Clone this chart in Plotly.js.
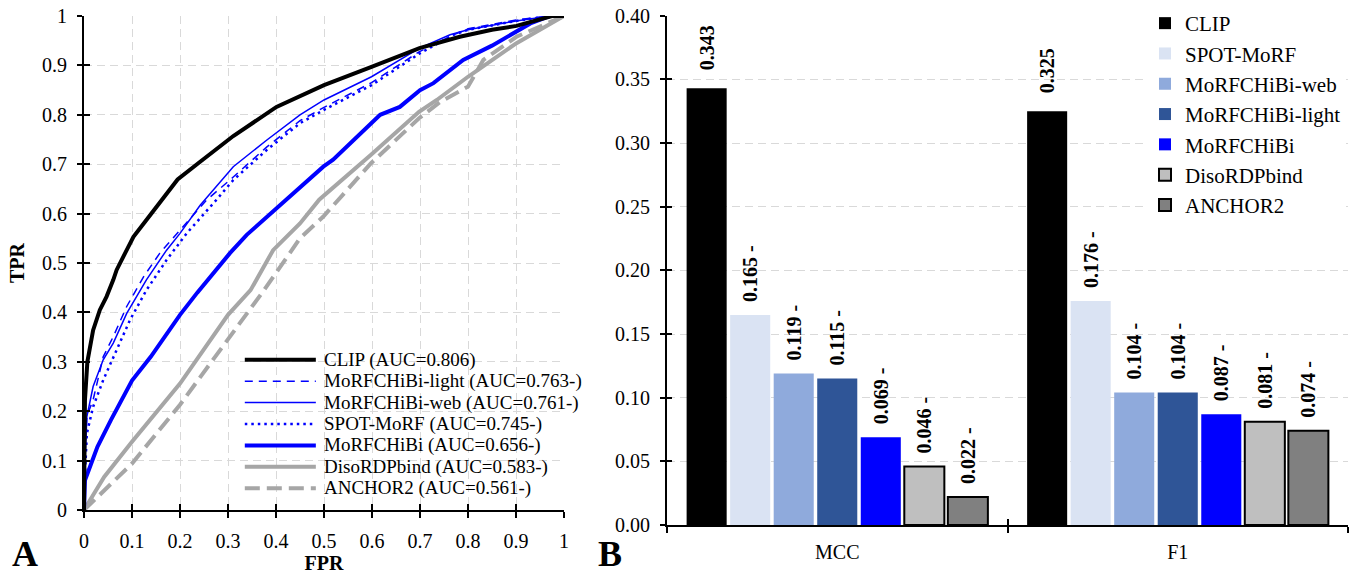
<!DOCTYPE html>
<html><head><meta charset="utf-8">
<script src="https://cdn.plot.ly/plotly-3.0.1.min.js"></script>
<style>html,body{margin:0;padding:0;background:#fff}</style>
</head><body><div id="chart" style="width:1355px;height:574px"></div>
<script>
// ---------- Panel A: ROC curves ----------
const rocNames = ['CLIP','MoRFCHiBi-light','MoRFCHiBi-web','SPOT-MoRF','MoRFCHiBi','DisoRDPbind','ANCHOR2'];
const rocLegend = ['CLIP (AUC=0.806)','MoRFCHiBi-light (AUC=0.763-)','MoRFCHiBi-web (AUC=0.761-)','SPOT-MoRF (AUC=0.745-)','MoRFCHiBi (AUC=0.656-)','DisoRDPbind (AUC=0.583-)','ANCHOR2 (AUC=0.561-)'];

const clipFPR = [0,0.001,0.002,0.007,0.019,0.033,0.047,0.061,0.068,0.082,0.103,0.13,0.162,0.195,0.242,0.311,0.401,0.5,0.599,0.699,0.783,0.85,0.901,0.943,0.975,1];
const clipTPR = [0,0.12,0.223,0.30,0.364,0.405,0.432,0.466,0.486,0.513,0.553,0.587,0.628,0.669,0.705,0.757,0.816,0.860,0.897,0.935,0.958,0.972,0.980,0.991,1.0,1];

const lightFPR = [0,0.002,0.006,0.019,0.04,0.061,0.089,0.124,0.158,0.2,0.256,0.311,0.381,0.45,0.5,0.599,0.699,0.77,0.8,0.9,0.95,1];
const lightTPR = [0,0.12,0.19,0.223,0.31,0.351,0.412,0.472,0.52,0.567,0.628,0.674,0.735,0.788,0.815,0.865,0.928,0.962,0.974,0.992,0.998,1];

const webFPR = [0,0.002,0.006,0.019,0.04,0.061,0.089,0.13,0.172,0.2,0.242,0.311,0.381,0.45,0.5,0.599,0.699,0.7625,0.8,0.9,0.95,1];
const webTPR = [0,0.10,0.189,0.25,0.304,0.338,0.398,0.466,0.526,0.56,0.617,0.695,0.749,0.80,0.83,0.877,0.935,0.962,0.972,0.99,0.997,1];

const spotFPR = [0,0.002,0.006,0.019,0.04,0.061,0.096,0.13,0.172,0.214,0.242,0.276,0.311,0.381,0.45,0.5,0.599,0.699,0.77,0.8,0.9,0.95,1];
const spotTPR = [0,0.07,0.155,0.209,0.263,0.31,0.385,0.445,0.506,0.56,0.59,0.628,0.668,0.729,0.783,0.81,0.86,0.924,0.962,0.972,0.99,0.997,1];

const morfFPR = [0,0.002,0.01,0.028,0.056,0.1,0.139,0.2,0.236,0.269,0.304,0.339,0.381,0.422,0.45,0.4986,0.519,0.582,0.617,0.658,0.7,0.728,0.79,0.85,0.901,0.93,0.971,1];
const morfTPR = [0,0.06,0.081,0.128,0.182,0.262,0.31,0.395,0.44,0.48,0.52,0.557,0.594,0.628,0.654,0.695,0.709,0.766,0.80,0.816,0.85,0.864,0.911,0.94,0.968,0.985,1.0,1];

const disoFPR = [0,0.042,0.1,0.2,0.3,0.347,0.394,0.45,0.49,0.598,0.698,0.735,0.8,0.901,1];
const disoTPR = [0,0.067,0.138,0.256,0.395,0.445,0.526,0.58,0.628,0.719,0.806,0.83,0.877,0.945,1];

const anchorFPR = [0,0.042,0.1,0.2,0.3,0.375,0.45,0.4986,0.598,0.698,0.742,0.8,0.832,0.901,1];
const anchorTPR = [0,0.04,0.094,0.213,0.344,0.445,0.55,0.594,0.702,0.793,0.826,0.857,0.911,0.958,1];

// ---------- Panel B: bar chart ----------
const metrics = ['MCC','F1'];
const barNames = ['CLIP','SPOT-MoRF','MoRFCHiBi-web','MoRFCHiBi-light','MoRFCHiBi','DisoRDPbind','ANCHOR2'];
const mccValues = [0.343,0.165,0.119,0.115,0.069,0.046,0.022];
const f1Values  = [0.325,0.176,0.104,0.104,0.087,0.081,0.074];
const mccLabels = ['0.343','0.165 -','0.119 -','0.115 -','0.069 -','0.046 -','0.022 -'];
const f1Labels  = ['0.325','0.176 -','0.104 -','0.104 -','0.087 -','0.081 -','0.074 -'];

const FONT = 'Liberation Serif, Times New Roman, serif';
const W = 1355, H = 574;

const rocX = [clipFPR, lightFPR, webFPR, spotFPR, morfFPR, disoFPR, anchorFPR];
const rocY = [clipTPR, lightTPR, webTPR, spotTPR, morfTPR, disoTPR, anchorTPR];
const rocStyle = [
  {color:'#000000', width:4, dash:'solid'},
  {color:'#0000ff', width:1.5, dash:'8px,6px'},
  {color:'#0000ff', width:1.5, dash:'solid'},
  {color:'#0000ff', width:2.5, dash:'2.5px,4px'},
  {color:'#0000ff', width:4, dash:'solid'},
  {color:'#a6a6a6', width:4, dash:'solid'},
  {color:'#a6a6a6', width:4, dash:'15px,7px'}
];

const barColors = ['#000000','#dae3f3','#8faadc','#2f5597','#0000ff','#bfbfbf','#808080'];
const barOutline = [0,0,0,0,0,2,2];

const traces = [];
// draw order: grays first, then blues, black on top
const drawOrder = [6,5,4,3,2,1,0];
drawOrder.forEach(i => {
  traces.push({
    type:'scatter', mode:'lines', name: rocNames[i],
    x: rocX[i], y: rocY[i], xaxis:'x', yaxis:'y',
    line: {color: rocStyle[i].color, width: rocStyle[i].width, dash: rocStyle[i].dash},
    showlegend:false, hoverinfo:'x+y+name'
  });
});
// helper traces so the inner-tick overlay axes exist
traces.push({type:'scatter', mode:'markers', x:[0.5], y:[0.5], xaxis:'x3', yaxis:'y3', marker:{opacity:0}, showlegend:false, hoverinfo:'skip'});
traces.push({type:'scatter', mode:'markers', x:metrics, y:[null,null], xaxis:'x4', yaxis:'y4', marker:{opacity:0}, showlegend:false, hoverinfo:'skip'});

barNames.forEach((n, i) => {
  const pad = i === 0 ? '\u00a0\u00a0\u00a0' : '\u00a0\u00a0';
  traces.push({
    type:'bar', name:n, x: metrics, y:[mccValues[i], f1Values[i]],
    xaxis:'x2', yaxis:'y2',
    text:[pad + mccLabels[i], pad + f1Labels[i]],
    textposition:'outside', textangle:-90, constraintext:'none', cliponaxis:false,
    textfont:{family:FONT, size:20, color:'#000', weight:'bold'},
    marker:{color: barColors[i], line:{color:'#000', width: barOutline[i]}},
    hoverinfo:'name+y'
  });
});

// manual legend for panel A
const shapes = [{
  type:'rect', xref:'x', yref:'y', x0:0.332, x1:1, y0:0, y1:0.335,
  fillcolor:'#ffffff', line:{width:0}, layer:'below'
}];
const annotations = [];
rocNames.forEach((n, i) => {
  const yy = 0.304 - 0.0433 * i;
  shapes.push({type:'line', xref:'x', yref:'y', x0:0.335, x1:0.483, y0:yy, y1:yy,
    line:{color: rocStyle[i].color, width: rocStyle[i].width, dash: rocStyle[i].dash}, layer:'above'});
  annotations.push({xref:'x', yref:'y', x:0.495, y:yy, xanchor:'left', yanchor:'middle',
    text: rocLegend[i], showarrow:false, font:{family:FONT, size:19, color:'#000'}});
});
annotations.push({xref:'paper', yref:'paper', x:10/W, y:1-554/H, xanchor:'left', yanchor:'middle',
  text:'<b>A</b>', showarrow:false, font:{family:FONT, size:36, color:'#000'}});
annotations.push({xref:'paper', yref:'paper', x:596/W, y:1-554/H, xanchor:'left', yanchor:'middle',
  text:'<b>B</b>', showarrow:false, font:{family:FONT, size:36, color:'#000'}});

const tickFont = {family:FONT, size:20, color:'#000'};
const gridCommon = {showgrid:true, gridcolor:'#d9d9d9', gridwidth:1, griddash:'8px,5px'};
const lineCommon = {showline:true, linewidth:2, linecolor:'#000', ticks:'outside', tickwidth:2, tickcolor:'#000', zeroline:false};
const innerTicks = {ticks:'inside', tickwidth:2, tickcolor:'#000', showticklabels:false, showgrid:false, zeroline:false, showline:false};

const dA = [84/W, 564/W], dAy = [1-510/H, 1-16/H];
const dB = [667/W, 1348/W], dBy = [1-525/H, 1-15.7/H];

const layout = {
  width:W, height:H,
  margin:{l:0, r:0, t:0, b:0, pad:0},
  paper_bgcolor:'#fff', plot_bgcolor:'rgba(0,0,0,0)',
  font:{family:FONT, color:'#000'},
  barmode:'group', bargap:0.105, bargroupgap:0.08,
  xaxis:Object.assign({domain:dA, anchor:'y', range:[0,1], tick0:0, dtick:0.1, ticklen:6,
    tickfont:tickFont, ticklabelstandoff:6,
    title:{text:'<b>FPR</b>', font:{family:FONT, size:20, color:'#000'}, standoff:4}}, lineCommon, gridCommon),
  yaxis:Object.assign({domain:dAy, anchor:'x', range:[0,1], tick0:0, dtick:0.1, ticklen:5,
    tickfont:tickFont, ticklabelstandoff:6,
    title:{text:'<b>TPR</b>', font:{family:FONT, size:20, color:'#000'}, standoff:12}}, lineCommon, gridCommon),
  xaxis3:Object.assign({overlaying:'x', anchor:'y', range:[0,1], tick0:0, dtick:0.1, ticklen:6}, innerTicks),
  yaxis3:Object.assign({overlaying:'y', anchor:'x', side:'left', range:[0,1], tick0:0, dtick:0.1, ticklen:6}, innerTicks),
  xaxis2:Object.assign({domain:dB, anchor:'y2', type:'category', range:[-0.5,1.5], tickson:'boundaries', ticklen:6,
    tickfont:tickFont, ticklabelstandoff:8, showgrid:false}, lineCommon),
  yaxis2:Object.assign({domain:dBy, anchor:'x2', range:[0,0.4], tick0:0, dtick:0.05, tickformat:'.2f', ticklen:5,
    tickfont:tickFont, ticklabelstandoff:6}, lineCommon, gridCommon),
  xaxis4:Object.assign({overlaying:'x2', anchor:'y2', type:'category', range:[-0.5,1.5], tickson:'boundaries', ticklen:6}, innerTicks),
  yaxis4:Object.assign({overlaying:'y2', anchor:'x2', side:'left', range:[0,0.4], tick0:0, dtick:0.05, ticklen:5}, innerTicks),
  legend:{x:1145/W, xanchor:'left', y:1-3/H, yanchor:'top', bgcolor:'#ffffff', borderwidth:0,
    font:{family:FONT, size:21, color:'#000'}, itemclick:false, itemdoubleclick:false, traceorder:'normal'},
  shapes:shapes,
  annotations:annotations
};

Plotly.newPlot('chart', traces, layout, {displayModeBar:false, responsive:false});
</script></body></html>
